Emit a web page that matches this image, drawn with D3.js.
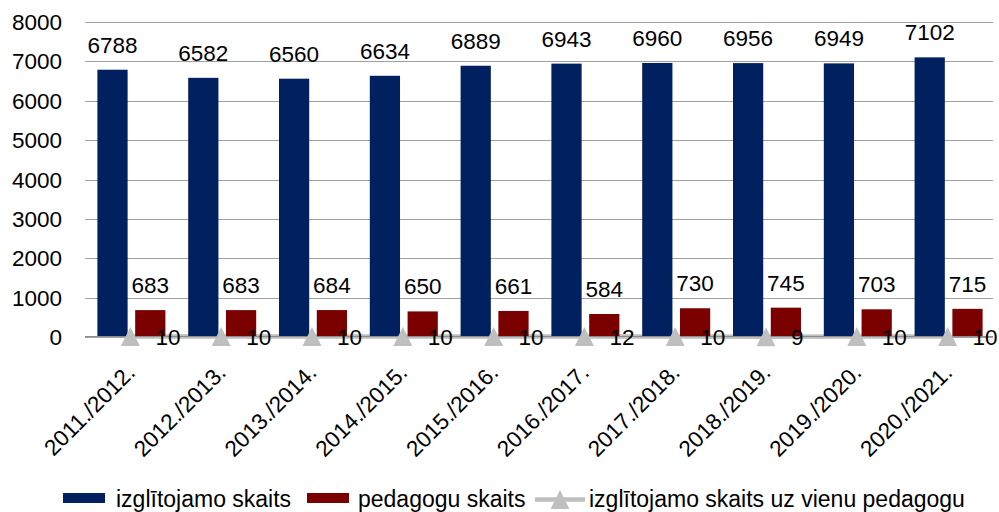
<!DOCTYPE html>
<html>
<head>
<meta charset="utf-8">
<script src="https://cdn.jsdelivr.net/npm/d3@7"></script>
<style>
  html, body { margin: 0; padding: 0; background: #fff; }
  svg { display: block; }
  text { font-family: "Liberation Sans", Arial, sans-serif; fill: #000; }
</style>
</head>
<body>
<svg id="chart" width="999" height="512"></svg>
<script>
const categories = ["2011./2012.", "2012./2013.", "2013./2014.", "2014./2015.", "2015./2016.",
                    "2016./2017.", "2017./2018.", "2018./2019.", "2019./2020.", "2020./2021."];
const students = [6788, 6582, 6560, 6634, 6889, 6943, 6960, 6956, 6949, 7102];
const teachers = [683, 683, 684, 650, 661, 584, 730, 745, 703, 715];
const ratio = [10, 10, 10, 10, 10, 12, 10, 9, 10, 10];
const yTicks = [0, 1000, 2000, 3000, 4000, 5000, 6000, 7000, 8000];
const seriesNames = ["izglītojamo skaits", "pedagogu skaits", "izglītojamo skaits uz vienu pedagogu"];

const colors = { students: "#002060", teachers: "#7b0000", ratio: "#bfbfbf", grid: "#a0a0a0" };
const FS = 22.5;
const LFS = 23;

const svg = d3.select("#chart");
const x = d3.scaleBand().domain(categories).range([85, 993]).padding(0);
const xSub = d3.scaleBand().domain(["s", "t"]).range([-33, 35]).paddingInner(0.2);
const y = d3.scaleLinear().domain([0, 8000]).range([337, 22]);
const cx = c => x(c) + x.bandwidth() / 2;

// gridlines
svg.append("g").selectAll("line").data(yTicks).join("line")
  .attr("x1", 85).attr("x2", 993)
  .attr("y1", d => Math.round(y(d)) + 0.5).attr("y2", d => Math.round(y(d)) + 0.5)
  .attr("stroke", colors.grid).attr("stroke-width", 1.2);

// y axis labels
svg.append("g").selectAll("text").data(yTicks).join("text")
  .attr("x", 62).attr("y", d => y(d) + 8)
  .attr("text-anchor", "end").attr("font-size", FS)
  .text(d => d);

// line series (drawn behind bars)
const line = d3.line().x((d, i) => cx(categories[i])).y(d => y(d));
svg.append("path").datum(ratio)
  .attr("d", line).attr("fill", "none")
  .attr("stroke", colors.ratio).attr("stroke-width", 4.5);

// bars
svg.append("g").selectAll("rect").data(students).join("rect")
  .attr("x", (d, i) => cx(categories[i]) + xSub("s"))
  .attr("width", xSub.bandwidth())
  .attr("y", d => y(d)).attr("height", d => y(0) - y(d))
  .attr("fill", colors.students);
svg.append("g").selectAll("rect").data(teachers).join("rect")
  .attr("x", (d, i) => cx(categories[i]) + xSub("t"))
  .attr("width", xSub.bandwidth())
  .attr("y", d => y(d)).attr("height", d => y(0) - y(d))
  .attr("fill", colors.teachers);

// zero axis line on top
svg.append("line").attr("x1", 85).attr("x2", 993)
  .attr("y1", Math.round(y(0)) - 0.5).attr("y2", Math.round(y(0)) - 0.5)
  .attr("stroke", "#8c8c8c").attr("stroke-width", 1);

// markers
svg.append("g").selectAll("path").data(ratio).join("path")
  .attr("transform", (d, i) => `translate(${cx(categories[i])},${y(d)})`)
  .attr("d", "M0,-9.5L9.5,9.5L-9.5,9.5Z")
  .attr("fill", colors.ratio);

// bar labels
svg.append("g").selectAll("text").data(students).join("text")
  .attr("x", (d, i) => cx(categories[i]) + xSub("s") + xSub.bandwidth() / 2)
  .attr("y", d => y(d) - 17)
  .attr("text-anchor", "middle").attr("font-size", FS)
  .text(d => d);
svg.append("g").selectAll("text").data(teachers).join("text")
  .attr("x", (d, i) => cx(categories[i]) + xSub("t") + xSub.bandwidth() / 2)
  .attr("y", d => y(d) - 17)
  .attr("text-anchor", "middle").attr("font-size", FS)
  .text(d => d);

// line labels
svg.append("g").selectAll("text").data(ratio).join("text")
  .attr("x", (d, i) => cx(categories[i]) + 25)
  .attr("y", d => y(d) + 8.5)
  .attr("text-anchor", "start").attr("font-size", FS)
  .text(d => d);

// x labels
svg.append("g").selectAll("text").data(categories).join("text")
  .attr("transform", d => `translate(${cx(d) + 6},374) rotate(-45)`)
  .attr("text-anchor", "end").attr("font-size", FS)
  .text(d => d);

// legend
const lg = svg.append("g");
lg.append("rect").attr("x", 63).attr("y", 493).attr("width", 42).attr("height", 10).attr("fill", colors.students);
lg.append("text").attr("x", 116).attr("y", 507).attr("font-size", LFS).text(seriesNames[0]);
lg.append("rect").attr("x", 307).attr("y", 493).attr("width", 42).attr("height", 10).attr("fill", colors.teachers);
lg.append("text").attr("x", 358).attr("y", 507).attr("font-size", LFS).text(seriesNames[1]);
lg.append("line").attr("x1", 535).attr("x2", 585).attr("y1", 499.5).attr("y2", 499.5)
  .attr("stroke", colors.ratio).attr("stroke-width", 4.5);
lg.append("path").attr("transform", "translate(560,499.5)").attr("d", "M0,-9.5L9.5,9.5L-9.5,9.5Z").attr("fill", colors.ratio);
lg.append("text").attr("x", 589).attr("y", 507).attr("font-size", LFS).text(seriesNames[2]);
</script>
</body>
</html>
